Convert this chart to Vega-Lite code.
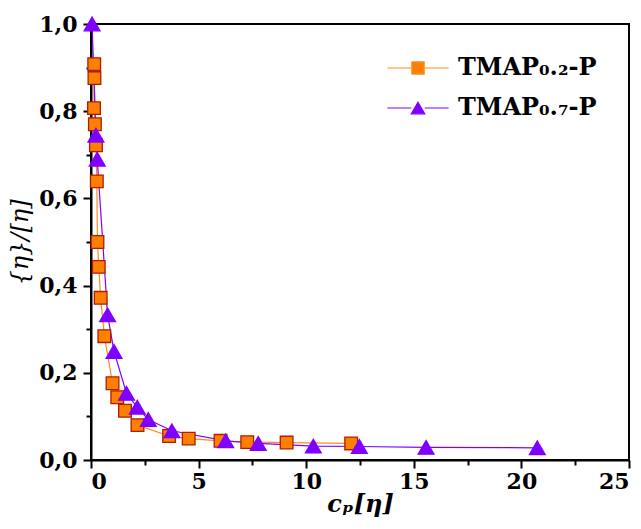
{
  "$schema": "https://vega.github.io/schema/vega-lite/v6.json",
  "width": 538,
  "height": 436,
  "autosize": {"type": "none"},
  "padding": {"left": 91, "top": 24, "right": 12, "bottom": 69},
  "background": "white",
  "view": {"stroke": "black", "strokeWidth": 2},
  "config": {
    "font": "DejaVu Serif",
    "axis": {"grid": false, "domainColor": "black", "tickColor": "black", "labelColor": "black", "titleColor": "black"},
    "legend": {"orient": "top-right", "title": null, "offset": 32, "labelFontSize": 24, "labelFontWeight": "bold", "labelFont": "DejaVu Serif",
      "symbolSize": 150, "labelOffset": 28, "rowPadding": 16}
  },
  "data": {"values": [
    {"s": "TMAP₀.₂-P", "x": 0.15, "y": 0.908},
    {"s": "TMAP₀.₂-P", "x": 0.16, "y": 0.876},
    {"s": "TMAP₀.₂-P", "x": 0.14, "y": 0.807},
    {"s": "TMAP₀.₂-P", "x": 0.18, "y": 0.770},
    {"s": "TMAP₀.₂-P", "x": 0.23, "y": 0.722},
    {"s": "TMAP₀.₂-P", "x": 0.27, "y": 0.639},
    {"s": "TMAP₀.₂-P", "x": 0.3, "y": 0.500},
    {"s": "TMAP₀.₂-P", "x": 0.36, "y": 0.443},
    {"s": "TMAP₀.₂-P", "x": 0.45, "y": 0.372},
    {"s": "TMAP₀.₂-P", "x": 0.62, "y": 0.284},
    {"s": "TMAP₀.₂-P", "x": 1.0, "y": 0.176},
    {"s": "TMAP₀.₂-P", "x": 1.22, "y": 0.144},
    {"s": "TMAP₀.₂-P", "x": 1.58, "y": 0.113},
    {"s": "TMAP₀.₂-P", "x": 2.16, "y": 0.080},
    {"s": "TMAP₀.₂-P", "x": 3.63, "y": 0.055},
    {"s": "TMAP₀.₂-P", "x": 4.54, "y": 0.049},
    {"s": "TMAP₀.₂-P", "x": 6.02, "y": 0.044},
    {"s": "TMAP₀.₂-P", "x": 7.26, "y": 0.041},
    {"s": "TMAP₀.₂-P", "x": 9.09, "y": 0.040},
    {"s": "TMAP₀.₂-P", "x": 12.09, "y": 0.038},
    {"s": "TMAP₀.₇-P", "x": 0.05, "y": 1.0},
    {"s": "TMAP₀.₇-P", "x": 0.23, "y": 0.745},
    {"s": "TMAP₀.₇-P", "x": 0.29, "y": 0.690},
    {"s": "TMAP₀.₇-P", "x": 0.77, "y": 0.333},
    {"s": "TMAP₀.₇-P", "x": 1.07, "y": 0.249},
    {"s": "TMAP₀.₇-P", "x": 1.65, "y": 0.153},
    {"s": "TMAP₀.₇-P", "x": 2.15, "y": 0.121},
    {"s": "TMAP₀.₇-P", "x": 2.66, "y": 0.093},
    {"s": "TMAP₀.₇-P", "x": 3.76, "y": 0.067},
    {"s": "TMAP₀.₇-P", "x": 6.26, "y": 0.044},
    {"s": "TMAP₀.₇-P", "x": 7.77, "y": 0.038},
    {"s": "TMAP₀.₇-P", "x": 10.33, "y": 0.032},
    {"s": "TMAP₀.₇-P", "x": 12.47, "y": 0.031},
    {"s": "TMAP₀.₇-P", "x": 15.57, "y": 0.029},
    {"s": "TMAP₀.₇-P", "x": 20.74, "y": 0.028}
  ]},
  "resolve": {"axis": {"x": "independent", "y": "independent"}},
  "layer": [
    {
      "mark": {"type": "line", "strokeWidth": 1.2},
      "encoding": {
        "x": {"field": "x", "type": "quantitative", "scale": {"domain": [0, 25], "nice": false},
          "axis": {"orient": "bottom", "values": [2.5, 7.5, 12.5, 17.5, 22.5], "labels": false, "domain": false, "tickSize": 5, "tickWidth": 2, "title": null}},
        "y": {"field": "y", "type": "quantitative", "scale": {"domain": [0, 1], "nice": false},
          "axis": {"orient": "left", "values": [0.1, 0.3, 0.5, 0.7, 0.9], "labels": false, "domain": false, "tickSize": 5, "tickWidth": 2, "title": null}},
        "color": {"field": "s", "type": "nominal", "scale": {"range": ["#FF8C1A", "#8000FF"]},
          "legend": {"encoding": {"symbols": {
              "shape": {"value": {"expr": "datum.index == 0 ? 'M-5,0H-1M1,0H5M-1,-1H1V1H-1Z' : 'M-5,0H-1.1M1.1,0H5M0,-0.95L1.1,0.95H-1.1Z'"}},
              "stroke": {"value": {"expr": "datum.index == 0 ? '#FF8C1A' : '#8000FF'"}},
              "fill": {"value": {"expr": "datum.index == 0 ? '#FF7F00' : '#8000FF'"}},
              "strokeWidth": {"value": 1.2},
              "opacity": {"value": 1}
            }}}}
      }
    },
    {
      "mark": {"type": "point", "filled": true, "opacity": 1, "strokeWidth": 1.3},
      "encoding": {
        "x": {"field": "x", "type": "quantitative",
          "axis": {"orient": "bottom", "values": [0, 5, 10, 15, 20, 25], "tickSize": 8, "tickWidth": 2, "domainWidth": 2,
            "labelFontSize": 22, "labelFontWeight": "bold", "labelPadding": 3, "labelFont": "DejaVu Serif",
            "title": "cₚ[η]", "titleFontSize": 24, "titleFontWeight": "bold", "titleFontStyle": "italic", "titleFont": "DejaVu Serif", "titlePadding": 0}},
        "y": {"field": "y", "type": "quantitative",
          "axis": {"orient": "left", "values": [0, 0.2, 0.4, 0.6, 0.8, 1.0], "labelExpr": "replace(format(datum.value, '.1f'), '.', ',')",
            "tickSize": 8, "tickWidth": 2, "domainWidth": 2,
            "labelFontSize": 22, "labelFontWeight": "bold", "labelPadding": 6, "labelFont": "DejaVu Serif",
            "title": "{η}/[η]", "titleFontSize": 24, "titleFontWeight": "normal", "titleFontStyle": "italic", "titleFont": "DejaVu Serif", "titlePadding": 6}},
        "shape": {"condition": {"test": "datum.s == 'TMAP₀.₂-P'", "value": "square"}, "value": "triangle-up"},
        "stroke": {"condition": {"test": "datum.s == 'TMAP₀.₂-P'", "value": "#B01C00"}, "value": "#8000FF"},
        "fill": {"condition": {"test": "datum.s == 'TMAP₀.₂-P'", "value": "#FF7F00"}, "value": "#8000FF"},
        "size": {"condition": {"test": "datum.s == 'TMAP₀.₂-P'", "value": 160}, "value": 250}
      }
    }
  ]
}
